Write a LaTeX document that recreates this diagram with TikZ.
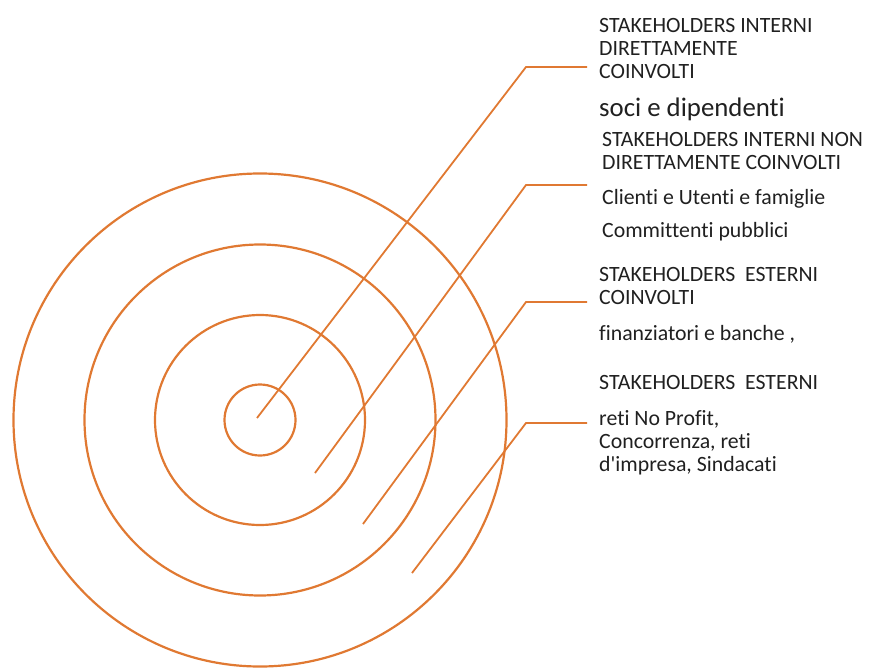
\documentclass[tikz,border=0pt]{standalone}
\usepackage{fontspec}
\newfontfamily\calibrifont{Carlito}[Ligatures=NoCommon]
\usetikzlibrary{positioning}
\definecolor{ringorange}{RGB}{224,121,50}
\definecolor{labelgray}{RGB}{32,32,32}
\tikzset{
  ring/.style={draw=ringorange, line width=2.2pt},
  leader/.style={draw=ringorange, line width=1.8pt},
  lbl/.style={anchor=west, inner sep=0pt, text=labelgray, align=left,
    font=\calibrifont\fontsize{21.8}{23}\selectfont},
  biglbl/.style={lbl, font=\calibrifont\fontsize{26.8}{28}\selectfont},
}

\begin{document}
\begin{tikzpicture}[x=1pt,y=-1pt]
		%%%%% START %%%%%
		\useasboundingbox (0,0) rectangle (870,669);
		
		% rings
		\coordinate (centre) at (260,420);
		\draw[ring] (centre) circle (35.5);
		\draw[ring] (centre) circle (105);
		\draw[ring] (centre) circle (175.5);
		\draw[ring] (centre) circle (246.5);
		
		% labels
		\node[lbl] (interni) at (599,48.5) {STAKEHOLDERS INTERNI\\DIRETTAMENTE\\COINVOLTI};
		\node[biglbl] (soci) at (599,109) {soci e dipendenti};
		\node[lbl] (nondir) at (602,151) {STAKEHOLDERS INTERNI NON\\DIRETTAMENTE COINVOLTI};
		\node[lbl] (clienti) at (602,199) {Clienti e Utenti e famiglie};
		\node[lbl] (committ) at (602,232) {Committenti pubblici};
		\node[lbl] (estcoinv) at (599,286) {STAKEHOLDERS\ \ ESTERNI\\COINVOLTI};
		\node[lbl] (finanz) at (599,334) {finanziatori e banche ,};
		\node[lbl] (esterni) at (599,382) {STAKEHOLDERS\ \ ESTERNI};
		\node[lbl] (reti) at (599,443) {reti No Profit,\\Concorrenza, reti\\d'impresa, Sindacati};
		
		% leaders
		\coordinate (p1) at (257,418);
		\coordinate (k1) at (526,67);
		\coordinate (e1) at (587,67);
		\coordinate (p2) at (315,473);
		\coordinate (k2) at (526,185);
		\coordinate (e2) at (587,185);
		\coordinate (p3) at (363,524);
		\coordinate (k3) at (526,302);
		\coordinate (e3) at (587,302);
		\coordinate (p4) at (412,573);
		\coordinate (k4) at (526,423);
		\coordinate (e4) at (587,423);
		\draw[leader] (p1) -- (k1) -- (e1);
		\draw[leader] (p2) -- (k2) -- (e2);
		\draw[leader] (p3) -- (k3) -- (e3);
		\draw[leader] (p4) -- (k4) -- (e4);
		
		%%%%% END %%%%%
\end{tikzpicture}
\end{document}
